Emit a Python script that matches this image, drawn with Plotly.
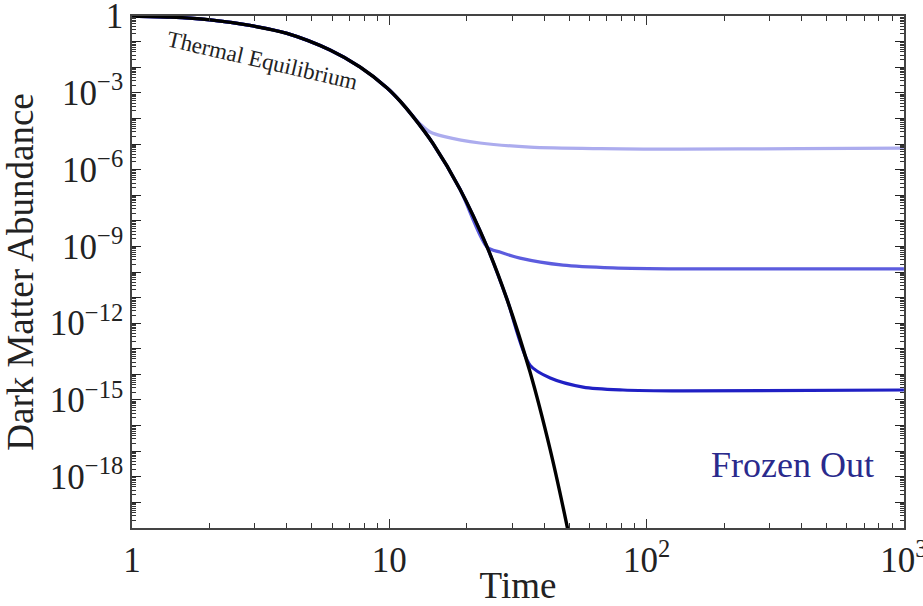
import plotly.graph_objects as go

# Equilibrium abundance (time, abundance)
eq_time = [1.0, 1.41, 2.01, 2.87, 4.0, 5.88, 7.69, 9.8, 11.0, 12.3, 14.8, 18.8,
           24.0, 28.6, 35.2, 42.2, 48.6, 52.0]
eq_abund = [1.0, 0.91, 0.71, 0.43, 0.21, 0.047, 0.0102, 1.55e-3, 4.8e-4, 1.26e-4,
            1.02e-5, 1.74e-7, 9.3e-10, 9.1e-12, 1.26e-14, 1.12e-17, 1.86e-20, 6.3e-22]

# Frozen-out branches: (time, abundance) after leaving equilibrium
weak_time = [13.2, 14.4, 16.4, 22.5, 35.2, 65.9, 134.8, 394.0, 1000.0]
weak_abund = [6.0e-5, 2.95e-5, 1.95e-5, 1.1e-5, 7.6e-6, 6.6e-6, 6.3e-6, 6.6e-6, 6.9e-6]

mid_time = [26.9, 32.2, 47.3, 74.0, 134.8, 1000.0]
mid_abund = [6.0e-10, 3.5e-10, 1.86e-10, 1.45e-10, 1.32e-10, 1.32e-10]

strong_time = [35.2, 42.2, 56.6, 80.9, 138.0, 1000.0]
strong_abund = [2.3e-14, 7.2e-15, 3.2e-15, 2.45e-15, 2.25e-15, 2.45e-15]

branch_colors = ["rgb(172,172,238)", "rgb(92,92,222)", "rgb(32,32,196)"]
branches = [(weak_time, weak_abund), (mid_time, mid_abund), (strong_time, strong_abund)]

fig = go.Figure()

for (bt, ba), col in zip(branches, branch_colors):
    # follow equilibrium until the branch departs
    pre_t = [t for t in eq_time if t < bt[0]]
    pre_a = eq_abund[:len(pre_t)]
    fig.add_trace(go.Scatter(
        x=pre_t + bt, y=pre_a + ba, mode="lines",
        line=dict(color=col, width=3.2, shape="spline", smoothing=0.8),
        showlegend=False, hoverinfo="skip"))

fig.add_trace(go.Scatter(
    x=eq_time, y=eq_abund, mode="lines",
    line=dict(color="black", width=3.4, shape="spline", smoothing=0.8),
    showlegend=False, hoverinfo="skip"))

serif = "Liberation Serif, DejaVu Serif, serif"

y_decades = list(range(-20, 1))
y_vals = [10.0 ** d for d in y_decades]
y_text = []
for d in y_decades:
    if d == 0:
        y_text.append("1")
    elif d % 3 == 0:
        y_text.append("10<sup>\u2212%d</sup>" % (-d))
    else:
        y_text.append("")
y_minor = [m * 10.0 ** d for d in range(-20, 0) for m in range(2, 10)]

x_vals = [1, 10, 100, 1000]
x_text = ["1", "10", "10<sup>2</sup>", "10<sup>3</sup>"]
x_minor = [m * 10.0 ** d for d in range(0, 3) for m in range(2, 10)]

fig.add_annotation(x=0.506, y=-1.72, xref="x", yref="y", text="Thermal Equilibrium",
                   showarrow=False, textangle=13,
                   font=dict(family=serif, size=23, color="#222222"))
fig.add_annotation(x=2.565, y=-17.54, xref="x", yref="y", text="Frozen Out",
                   showarrow=False,
                   font=dict(family=serif, size=36, color="rgb(42,42,140)"))

fig.update_layout(
    width=923, height=606,
    margin=dict(l=132, r=19, t=16, b=78),
    paper_bgcolor="white", plot_bgcolor="white",
    font=dict(family=serif, size=30, color="#222222"),
    xaxis=dict(
        type="log", range=[-0.0003, 3.0003], automargin=False,
        tickmode="array", tickvals=x_vals, ticktext=x_text, ticklabeloverflow="allow",
        ticks="inside", ticklen=9, tickwidth=1.2, tickcolor="#333",
        showline=True, linecolor="#444", linewidth=1.6, mirror="allticks",
        showgrid=False, zeroline=False,
        tickfont=dict(family=serif, size=35),
        minor=dict(tickmode="array", tickvals=x_minor, ticks="inside", ticklen=5,
                   tickwidth=1, tickcolor="#333", showgrid=False),
        title=dict(text="Time", font=dict(family=serif, size=37), standoff=4),
    ),
    yaxis=dict(
        type="log", range=[-20.002, 0.002], automargin=False,
        tickmode="array", tickvals=y_vals, ticktext=y_text, ticklabeloverflow="allow",
        ticks="inside", ticklen=9, tickwidth=1.4, tickcolor="#222",
        showline=True, linecolor="#444", linewidth=1.6, mirror="allticks",
        showgrid=False, zeroline=False,
        tickfont=dict(family=serif, size=35),
        minor=dict(tickmode="array", tickvals=y_minor, ticks="inside", ticklen=4,
                   tickwidth=1, tickcolor="#333", showgrid=False),
        title=dict(text="Dark Matter Abundance", font=dict(family=serif, size=37), standoff=6),
    ),
)

fig.write_html("out.html")
